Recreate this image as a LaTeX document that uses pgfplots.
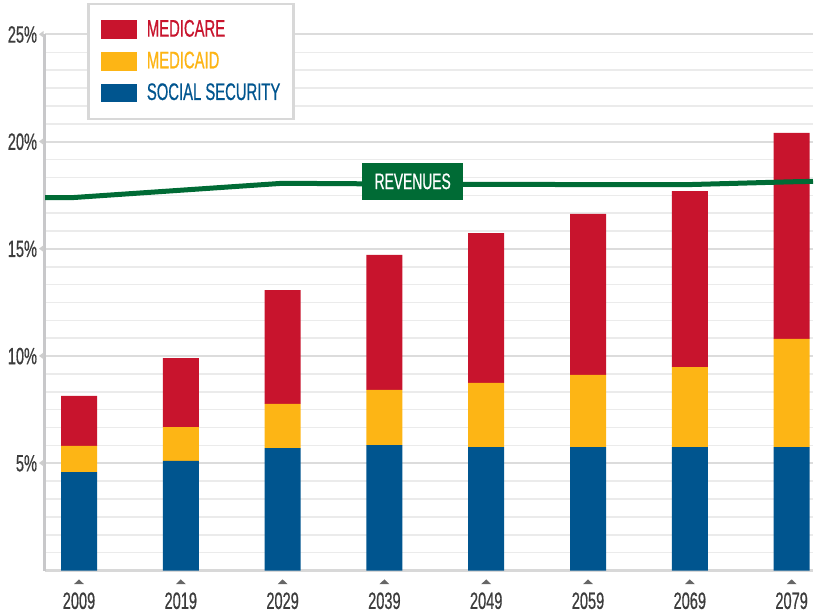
\documentclass[border=0pt]{standalone}
\usepackage{fontspec}
\setmainfont{Liberation Sans}[FakeStretch=0.62, FakeBold=0.6]
\usepackage{pgfplots}
\usepackage{pgfplotstable}
\pgfplotsset{compat=1.18}

\definecolor{medicare}{HTML}{C8142D}
\definecolor{medicaid}{HTML}{FDB515}
\definecolor{socsec}{HTML}{00558F}
\definecolor{revgreen}{HTML}{006B35}
\definecolor{labelgray}{HTML}{3C3C3C}
\definecolor{majgrid}{HTML}{DCDCDC}
\definecolor{mingrid}{HTML}{EBEBEB}
\definecolor{axisgray}{HTML}{C8C8CA}
\definecolor{boxgray}{HTML}{D8D8D8}
\definecolor{trilight}{HTML}{CDCDCD}
\definecolor{tridark}{HTML}{666666}

\newcommand\ytri{\hspace{1bp}\tikz[baseline=-4.15bp]\fill[trilight] (0,0)--(2.3bp,1.7bp)--(2.3bp,-1.7bp)--cycle;}
\newcommand\xtri{\tikz\fill[tridark] (0,0)--(5bp,0)--(2.5bp,2.4bp)--cycle;}

% shares of GDP
\pgfplotstableread{
x ss mcaid mcare
0 4.59 1.22 2.33
1 5.11 1.58 3.22
2 5.71 2.06 5.31
3 5.85 2.57 6.30
4 5.76 2.99 6.99
5 5.76 3.36 7.51
6 5.76 3.73 8.21
7 5.76 5.04 9.61
}\budget

\pgfplotstableread{
x rev
-0.334 17.39
-0.07 17.39
2 18.06
3 18.03
4 18.01
5 18.00
6 18.00
7 18.13
7.21 18.15
}\revenues

\pgfplotsset{base/.style={
    scale only axis,
    width=384bp, height=268bp,
    xmin=-0.334, xmax=7.21,
    ymin=0, ymax=25,
}}

\begin{document}
\begin{tikzpicture}
\begin{axis}[
    base,
    ybar stacked,
    bar width=18bp,
    axis x line*=bottom,
    axis y line*=left,
    x axis line style={draw=boxgray, line width=1.2bp, -},
    y axis line style={draw=axisgray, line width=1.5bp, -},
    xtick={0,...,7},
    xticklabels={{\xtri\\2009},{\xtri\\2019},{\xtri\\2029},{\xtri\\2039},
                 {\xtri\\2049},{\xtri\\2059},{\xtri\\2069},{\xtri\\2079}},
    xticklabel style={font=\fontsize{11.8}{12.4}\selectfont, text=labelgray,
        align=center, inner sep=0pt, anchor=north, yshift=-4.25bp},
    ytick={0,5,...,25},
    yticklabels={,5\%\ytri,10\%\ytri,15\%\ytri,20\%\ytri,25\%\ytri},
    yticklabel style={font=\fontsize{11.8}{12}\selectfont, text=labelgray,
        inner sep=0pt, anchor=east, xshift=-0.5bp},
    minor tick num=5,
    major tick length=0pt, minor tick length=0pt,
    ymajorgrids, yminorgrids,
    major grid style={draw=majgrid, line width=1bp},
    minor grid style={draw=mingrid, line width=0.75bp},
    legend style={at={(0.0547,1.0595)}, anchor=north west,
        draw=boxgray, line width=1.3bp, fill=white,
        inner xsep=6.5bp, inner ysep=8bp,
        row sep=6bp, column sep=4.8bp,
        font=\fontsize{12}{12}\selectfont,
        nodes={inner sep=0pt}},
    legend cell align=left,
    reverse legend,
    legend image code/.code={\fill[#1] (0bp,-4.65bp) rectangle (18bp,4.65bp);},
]
\addplot[fill=socsec, draw=none] table[x=x, y=ss] {\budget};
\addplot[fill=medicaid, draw=none] table[x=x, y=mcaid] {\budget};
\addplot[fill=medicare, draw=none] table[x=x, y=mcare] {\budget};
\legend{\textcolor{socsec}{SOCIAL SECURITY},
        \textcolor{medicaid}{MEDICAID},
        \textcolor{medicare}{MEDICARE}}
\end{axis}

\begin{axis}[base, hide axis]
\addplot[revgreen, line width=2.5bp, line join=round] table[x=x, y=rev] {\revenues};
\node[fill=revgreen, text=white, inner sep=0pt, minimum width=50.7bp,
      minimum height=18.5bp, font=\fontsize{11.2}{11.2}\selectfont]
      at (axis cs:3.278,18.15) {REVENUES};
\coordinate (sw) at (rel axis cs:0,0);
\coordinate (ne) at (rel axis cs:1,1);
\end{axis}

\pgfresetboundingbox
\path ([xshift=-22.5bp,yshift=-20.75bp]sw) rectangle ([xshift=2bp,yshift=17.25bp]ne);
\end{tikzpicture}
\end{document}
